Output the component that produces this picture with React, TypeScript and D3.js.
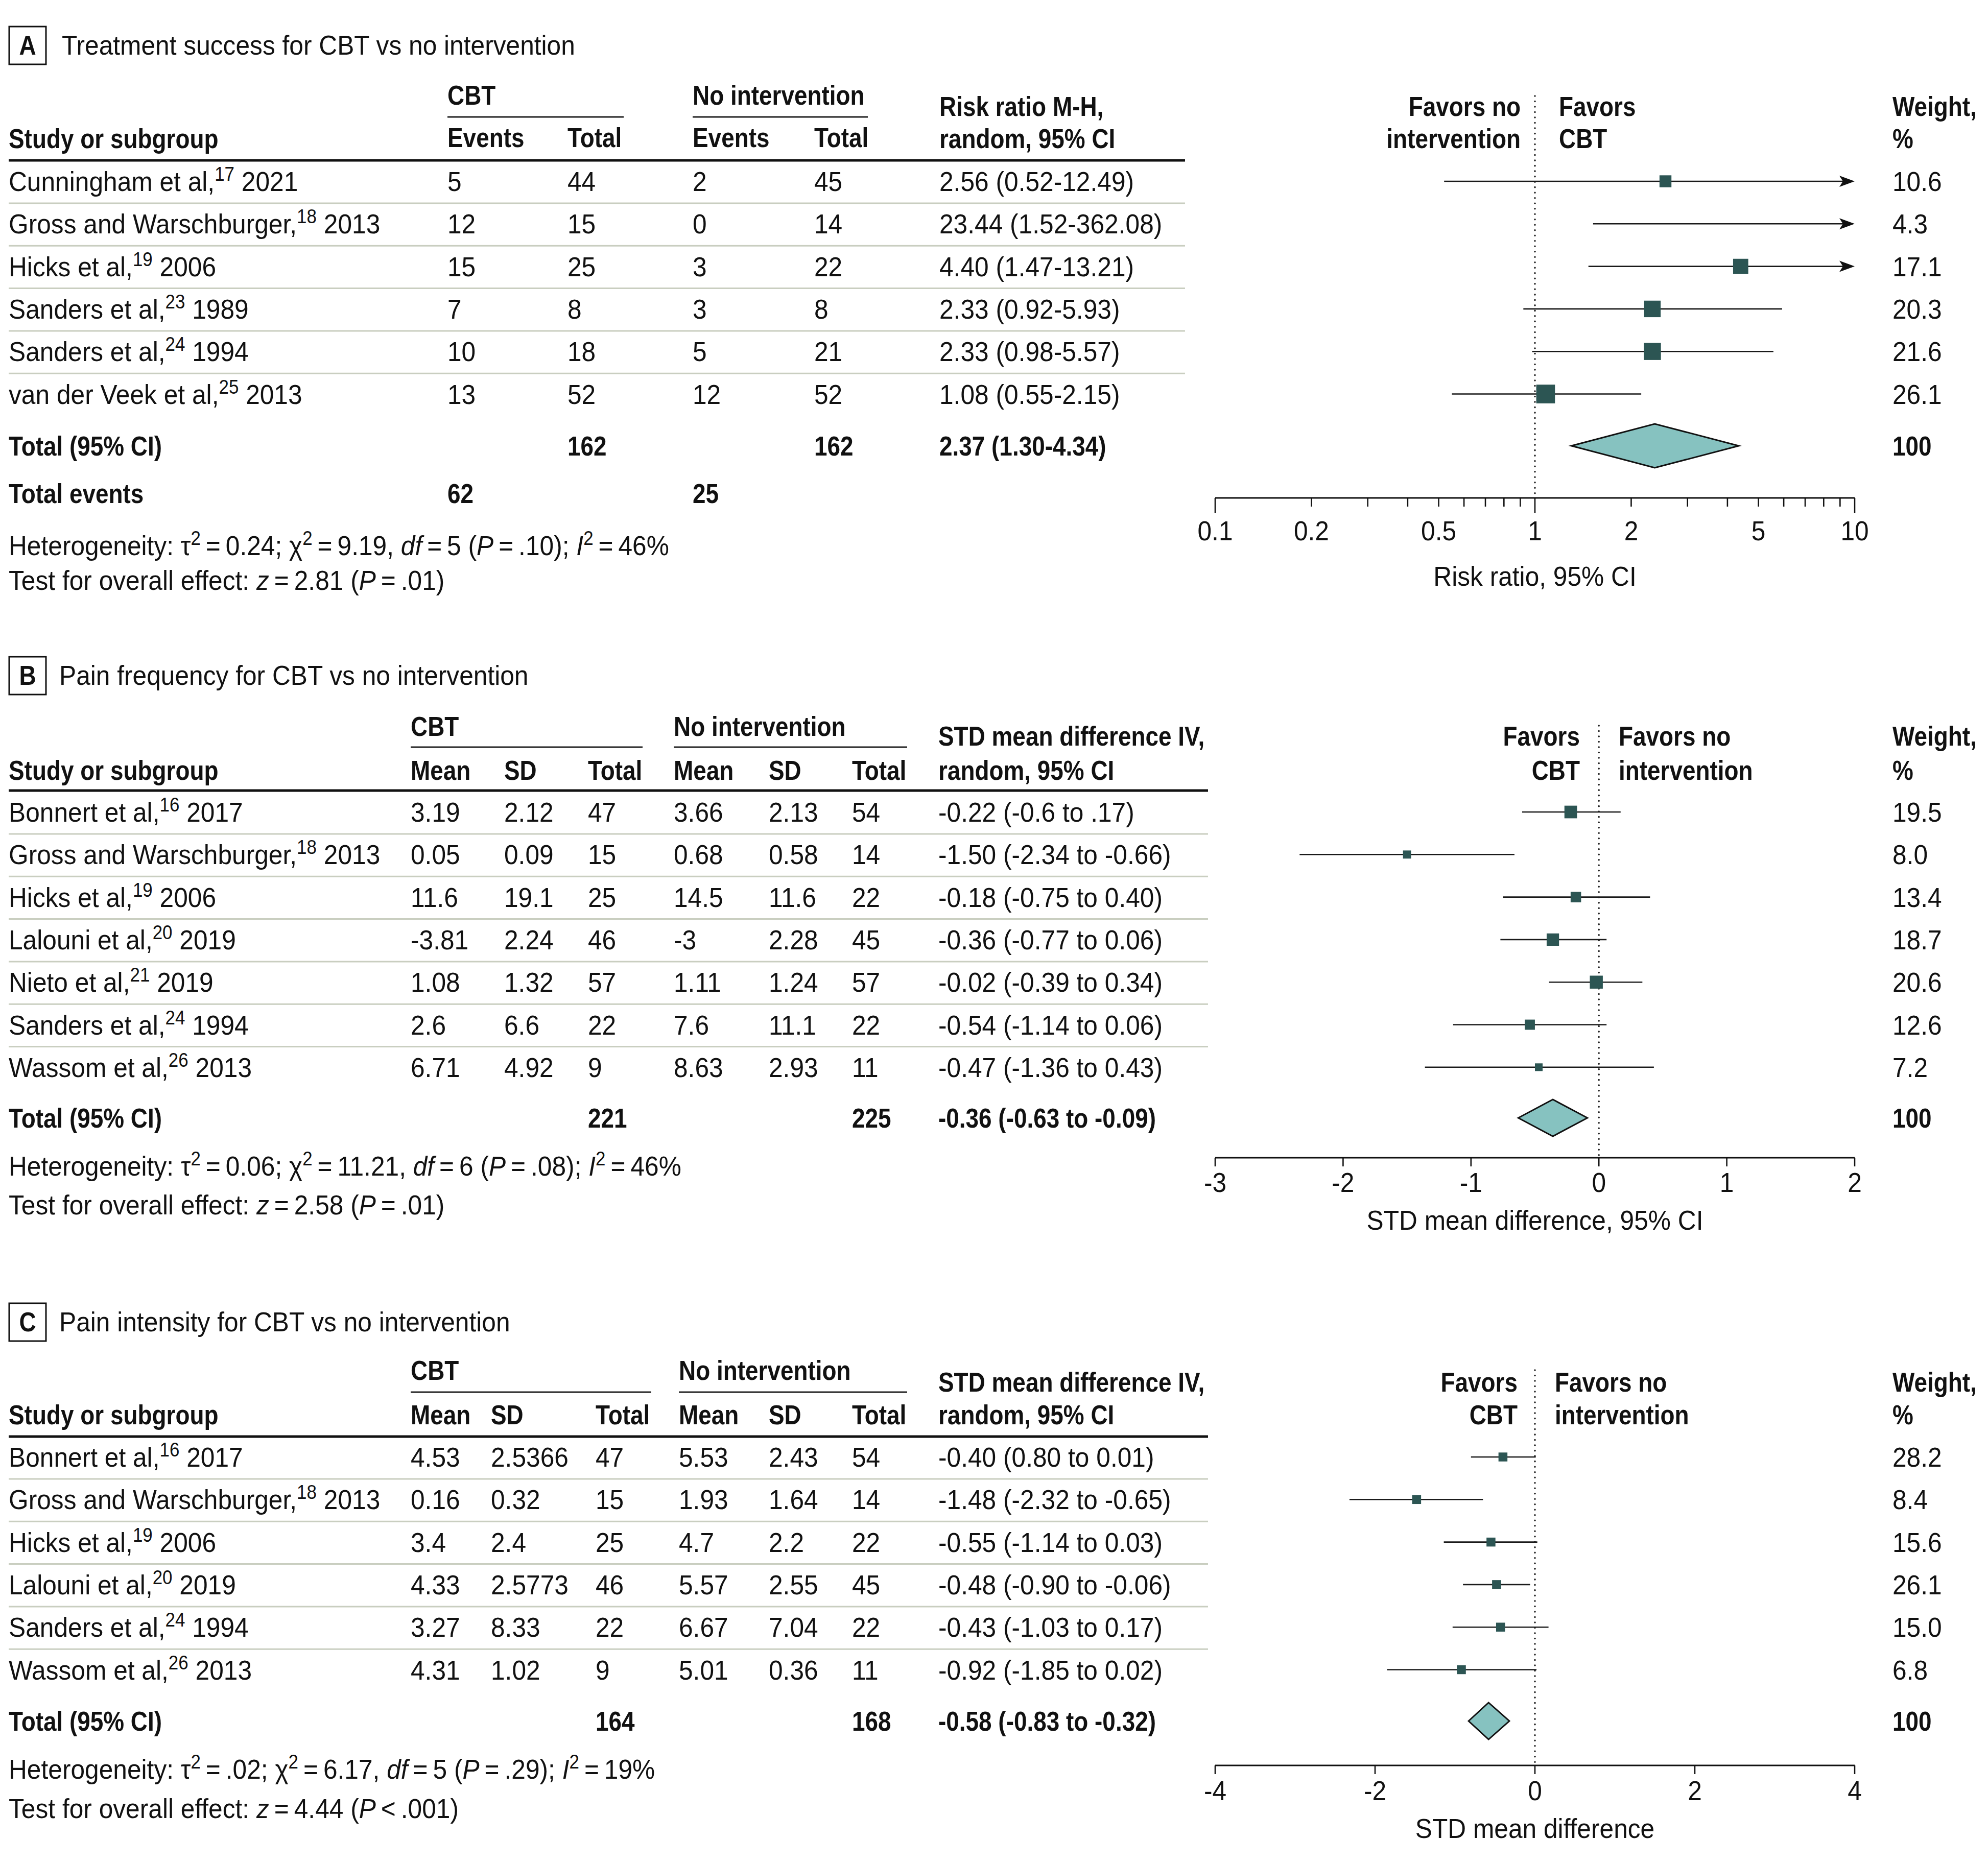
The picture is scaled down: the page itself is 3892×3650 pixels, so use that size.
import React from "react";
import * as d3 from "d3";

// ---------------- Panel A data: Treatment success ----------------
const studiesA = ["Cunningham et al,", "Gross and Warschburger,", "Hicks et al,", "Sanders et al,", "Sanders et al,", "van der Veek et al,"];
const refsA = ["17", "18", "19", "23", "24", "25"];
const yearsA = ["2021", "2013", "2006", "1989", "1994", "2013"];
const eventsCbtA = [5, 12, 15, 7, 10, 13];
const totalCbtA = [44, 15, 25, 8, 18, 52];
const eventsNoA = [2, 0, 3, 3, 5, 12];
const totalNoA = [45, 14, 22, 8, 21, 52];
const rrA = [2.56, 23.44, 4.4, 2.33, 2.33, 1.08];
const rrLowA = [0.52, 1.52, 1.47, 0.92, 0.98, 0.55];
const rrHighA = [12.49, 362.08, 13.21, 5.93, 5.57, 2.15];
const weightA = ["10.6", "4.3", "17.1", "20.3", "21.6", "26.1"];
const pooledA = [2.37, 1.3, 4.34];
const totalsA = [162, 162];
const totalEventsA = [62, 25];
const ticksA = [0.1, 0.2, 0.3, 0.4, 0.5, 0.6, 0.7, 0.8, 0.9, 1, 2, 3, 4, 5, 6, 7, 8, 9, 10];
const tickLabelsA = [0.1, 0.2, 0.5, 1, 2, 5, 10];
const hetA = [["Heterogeneity: τ", "n"], ["2", "s"], ["\u2009=\u20090.24; χ", "n"], ["2", "s"], ["\u2009=\u20099.19, ", "n"], ["df", "i"], ["\u2009=\u20095 (", "n"], ["P", "i"], ["\u2009=\u2009.10); ", "n"], ["I", "i"], ["2", "s"], ["\u2009=\u200946%", "n"]];
const testA = [["Test for overall effect: ", "n"], ["z", "i"], ["\u2009=\u20092.81 (", "n"], ["P", "i"], ["\u2009=\u2009.01)", "n"]];

// ---------------- Panel B data: Pain frequency ----------------
const studiesB = ["Bonnert et al,", "Gross and Warschburger,", "Hicks et al,", "Lalouni et al,", "Nieto et al,", "Sanders et al,", "Wassom et al,"];
const refsB = ["16", "18", "19", "20", "21", "24", "26"];
const yearsB = ["2017", "2013", "2006", "2019", "2019", "1994", "2013"];
const meanCbtB = ["3.19", "0.05", "11.6", "-3.81", "1.08", "2.6", "6.71"];
const sdCbtB = ["2.12", "0.09", "19.1", "2.24", "1.32", "6.6", "4.92"];
const totalCbtB = [47, 15, 25, 46, 57, 22, 9];
const meanNoB = ["3.66", "0.68", "14.5", "-3", "1.11", "7.6", "8.63"];
const sdNoB = ["2.13", "0.58", "11.6", "2.28", "1.24", "11.1", "2.93"];
const totalNoB = [54, 14, 22, 45, 57, 22, 11];
const smdB = [-0.22, -1.5, -0.18, -0.36, -0.02, -0.54, -0.47];
const smdLowB = [-0.6, -2.34, -0.75, -0.77, -0.39, -1.14, -1.36];
const smdHighB = [0.17, -0.66, 0.4, 0.06, 0.34, 0.06, 0.43];
const ciLabelB = ["-0.22 (-0.6 to .17)", "-1.50 (-2.34 to -0.66)", "-0.18 (-0.75 to 0.40)", "-0.36 (-0.77 to 0.06)", "-0.02 (-0.39 to 0.34)", "-0.54 (-1.14 to 0.06)", "-0.47 (-1.36 to 0.43)"];
const weightB = ["19.5", "8.0", "13.4", "18.7", "20.6", "12.6", "7.2"];
const pooledB = [-0.36, -0.63, -0.09];
const pooledLabelB = "-0.36 (-0.63 to -0.09)";
const totalsB = [221, 225];
const ticksB = [-3, -2, -1, 0, 1, 2];
const hetB = [["Heterogeneity: τ", "n"], ["2", "s"], ["\u2009=\u20090.06; χ", "n"], ["2", "s"], ["\u2009=\u200911.21, ", "n"], ["df", "i"], ["\u2009=\u20096 (", "n"], ["P", "i"], ["\u2009=\u2009.08); ", "n"], ["I", "i"], ["2", "s"], ["\u2009=\u200946%", "n"]];
const testB = [["Test for overall effect: ", "n"], ["z", "i"], ["\u2009=\u20092.58 (", "n"], ["P", "i"], ["\u2009=\u2009.01)", "n"]];

// ---------------- Panel C data: Pain intensity ----------------
const studiesC = ["Bonnert et al,", "Gross and Warschburger,", "Hicks et al,", "Lalouni et al,", "Sanders et al,", "Wassom et al,"];
const refsC = ["16", "18", "19", "20", "24", "26"];
const yearsC = ["2017", "2013", "2006", "2019", "1994", "2013"];
const meanCbtC = ["4.53", "0.16", "3.4", "4.33", "3.27", "4.31"];
const sdCbtC = ["2.5366", "0.32", "2.4", "2.5773", "8.33", "1.02"];
const totalCbtC = [47, 15, 25, 46, 22, 9];
const meanNoC = ["5.53", "1.93", "4.7", "5.57", "6.67", "5.01"];
const sdNoC = ["2.43", "1.64", "2.2", "2.55", "7.04", "0.36"];
const totalNoC = [54, 14, 22, 45, 22, 11];
const smdC = [-0.4, -1.48, -0.55, -0.48, -0.43, -0.92];
const smdLowC = [-0.8, -2.32, -1.14, -0.9, -1.03, -1.85];
const smdHighC = [0.01, -0.65, 0.03, -0.06, 0.17, 0.02];
const ciLabelC = ["-0.40 (0.80 to 0.01)", "-1.48 (-2.32 to -0.65)", "-0.55 (-1.14 to 0.03)", "-0.48 (-0.90 to -0.06)", "-0.43 (-1.03 to 0.17)", "-0.92 (-1.85 to 0.02)"];
const weightC = ["28.2", "8.4", "15.6", "26.1", "15.0", "6.8"];
const pooledC = [-0.58, -0.83, -0.32];
const pooledLabelC = "-0.58 (-0.83 to -0.32)";
const totalsC = [164, 168];
const ticksC = [-4, -2, 0, 2, 4];
const hetC = [["Heterogeneity: τ", "n"], ["2", "s"], ["\u2009=\u2009.02; χ", "n"], ["2", "s"], ["\u2009=\u20096.17, ", "n"], ["df", "i"], ["\u2009=\u20095 (", "n"], ["P", "i"], ["\u2009=\u2009.29); ", "n"], ["I", "i"], ["2", "s"], ["\u2009=\u200919%", "n"]];
const testC = [["Test for overall effect: ", "n"], ["z", "i"], ["\u2009=\u20094.44 (", "n"], ["P", "i"], ["\u2009<\u2009.001)", "n"]];

// ---------------- Styling / layout ----------------
const FONT = '"Liberation Sans", Arimo, Arial, sans-serif';
const FS = 54;
const SX = 0.92; // horizontal condensation, regular text
const SXB = 0.85; // horizontal condensation, bold text
const SUP_FS = 38;
const SUP_DY = 20;
const ROW_STEP = 83.3;
const PLOT_X0 = 2379;
const PLOT_X1 = 3631;
const WEIGHT_X = 3705;
const SQUARE_FILL = "#2c5553";
const DIAMOND_FILL = "#86c2c0";
const SEP_COLOR = "#c9cec0";
const TXT = "#111";

function tf(x: number, y: number, bold?: boolean) {
  return `translate(${x},${y}) scale(${bold ? SXB : SX},1)`;
}

function rich(parts: string[][]) {
  let up = false;
  return parts.map((p, i) => {
    const [t, st] = p;
    let dy: number | undefined;
    if (st === "s" && !up) { dy = -SUP_DY; up = true; }
    else if (st !== "s" && up) { dy = SUP_DY; up = false; }
    return (
      <tspan key={i} dy={dy} fontSize={st === "s" ? SUP_FS : undefined} fontStyle={st === "i" ? "italic" : undefined}>{t}</tspan>
    );
  });
}

function T(props: { x: number; y: number; children: any; bold?: boolean; anchor?: string }) {
  return (
    <text transform={tf(props.x, props.y, props.bold)} fontWeight={props.bold ? "bold" : "normal"} textAnchor={props.anchor || "start"}>
      {props.children}
    </text>
  );
}

function Rich(props: { x: number; y: number; parts: string[][] }) {
  return <text transform={tf(props.x, props.y)}>{rich(props.parts)}</text>;
}

function StudyName(props: { x: number; y: number; name: string; sup: string; year: string }) {
  return (
    <text transform={tf(props.x, props.y)}>
      {props.name}
      <tspan dy={-SUP_DY} fontSize={SUP_FS}>{props.sup}</tspan>
      <tspan dy={SUP_DY}>{" " + props.year}</tspan>
    </text>
  );
}

function PanelTitle(props: { letter: string; title: string; boxY: number; base: number; titleX: number }) {
  return (
    <g>
      <rect x={18} y={props.boxY} width={72} height={74} fill="none" stroke="#111" strokeWidth={3} />
      <T x={54} y={props.base} bold anchor="middle">{props.letter}</T>
      <T x={props.titleX} y={props.base}>{props.title}</T>
    </g>
  );
}

type ForestProps = {
  scale: any;
  rowBase: number;
  est: number[];
  lo: number[];
  hi: number[];
  sizes: number[];
  pooled: number[];
  pooledBase: number;
  diamondH: number;
  axisY: number;
  ticks: number[];
  tickLabels: number[];
  longTicks: number[];
  tickLen: number;
  longLen: number;
  labelBase: number;
  axisTitle: string;
  axisTitleBase: number;
  dotTop: number;
  refVal: number;
};

function Forest(p: ForestProps) {
  const [dMin, dMax] = p.scale.domain();
  const xr = p.scale(p.refVal);
  const items = p.est.map((e, i) => {
    const y = p.rowBase + i * ROW_STEP - 19;
    const loC = Math.max(p.lo[i], dMin);
    const hiC = Math.min(p.hi[i], dMax);
    const arrowR = p.hi[i] > dMax;
    const x1 = p.scale(loC);
    const x2 = p.scale(hiC);
    const s = p.sizes[i];
    const showSq = e >= dMin && e <= dMax;
    return (
      <g key={i}>
        <line x1={x1} x2={arrowR ? x2 - 20 : x2} y1={y} y2={y} stroke="#1a1a1a" strokeWidth={2.6} />
        {arrowR && (
          <path d={`M${x2},${y} L${x2 - 30},${y - 11} L${x2 - 23},${y} L${x2 - 30},${y + 11} Z`} fill="#111" />
        )}
        {showSq && <rect x={p.scale(e) - s / 2} y={y - s / 2} width={s} height={s} fill={SQUARE_FILL} />}
      </g>
    );
  });
  const dy = p.pooledBase - 19;
  const h = p.diamondH / 2;
  const dPath = d3.line()([
    [p.scale(p.pooled[1]), dy],
    [p.scale(p.pooled[0]), dy - h],
    [p.scale(p.pooled[2]), dy],
    [p.scale(p.pooled[0]), dy + h],
  ]) + "Z";
  return (
    <g>
      <line x1={xr} x2={xr} y1={p.dotTop} y2={p.axisY} stroke="#222" strokeWidth={3.6} strokeDasharray="0.01 10.5" strokeLinecap="round" />
      {items}
      <path d={dPath} fill={DIAMOND_FILL} stroke="#111" strokeWidth={3} strokeLinejoin="miter" />
      <line x1={p.scale(dMin)} x2={p.scale(dMax)} y1={p.axisY} y2={p.axisY} stroke="#111" strokeWidth={3} />
      {p.ticks.map((t, i) => (
        <line key={i} x1={p.scale(t)} x2={p.scale(t)} y1={p.axisY} y2={p.axisY + (p.longTicks.includes(t) ? p.longLen : p.tickLen)} stroke="#111" strokeWidth={2.6} />
      ))}
      {p.tickLabels.map((t, i) => (
        <T key={i} x={p.scale(t)} y={p.labelBase} anchor="middle">{String(t)}</T>
      ))}
      <T x={(p.scale(dMin) + p.scale(dMax)) / 2} y={p.axisTitleBase} anchor="middle">{p.axisTitle}</T>
    </g>
  );
}

function Separators(props: { n: number; rowBase: number; x2: number }) {
  const ys = d3.range(props.n - 1).map((i) => props.rowBase + i * ROW_STEP + 24);
  return (
    <g>
      {ys.map((y, i) => (
        <line key={i} x1={17} x2={props.x2} y1={y} y2={y} stroke={SEP_COLOR} strokeWidth={3} />
      ))}
    </g>
  );
}

function PanelA() {
  const rowBase = 374;
  const x = d3.scaleLog().domain([0.1, 10]).range([PLOT_X0, PLOT_X1]);
  const sizes = weightA.map((w) => 7.18 * Math.sqrt(+w));
  const rows = studiesA.map((s, i) => {
    const y = rowBase + i * ROW_STEP;
    return (
      <g key={i}>
        <StudyName x={17} y={y} name={s} sup={refsA[i]} year={yearsA[i]} />
        <T x={876} y={y}>{eventsCbtA[i]}</T>
        <T x={1111} y={y}>{totalCbtA[i]}</T>
        <T x={1356} y={y}>{eventsNoA[i]}</T>
        <T x={1594} y={y}>{totalNoA[i]}</T>
        <T x={1839} y={y}>{`${rrA[i].toFixed(2)} (${rrLowA[i].toFixed(2)}-${rrHighA[i].toFixed(2)})`}</T>
        <T x={WEIGHT_X} y={y}>{weightA[i]}</T>
      </g>
    );
  });
  return (
    <g>
      <PanelTitle letter="A" title="Treatment success for CBT vs no intervention" boxY={52} base={107} titleX={121} />
      <T x={876} y={205} bold>CBT</T>
      <line x1={876} x2={1221} y1={229} y2={229} stroke="#222" strokeWidth={3} />
      <T x={1356} y={205} bold>No intervention</T>
      <line x1={1356} x2={1699} y1={229} y2={229} stroke="#222" strokeWidth={3} />
      <T x={17} y={290} bold>Study or subgroup</T>
      <T x={876} y={288} bold>Events</T>
      <T x={1111} y={288} bold>Total</T>
      <T x={1356} y={288} bold>Events</T>
      <T x={1594} y={288} bold>Total</T>
      <T x={1839} y={227} bold>Risk ratio M-H,</T>
      <T x={1839} y={290} bold>random, 95% CI</T>
      <T x={2977} y={227} bold anchor="end">Favors no</T>
      <T x={2977} y={290} bold anchor="end">intervention</T>
      <T x={3052} y={227} bold>Favors</T>
      <T x={3052} y={290} bold>CBT</T>
      <T x={WEIGHT_X} y={227} bold>Weight,</T>
      <T x={WEIGHT_X} y={290} bold>%</T>
      <line x1={17} x2={2320} y1={314} y2={314} stroke="#111" strokeWidth={5} />
      <Separators n={studiesA.length} rowBase={rowBase} x2={2320} />
      {rows}
      <T x={17} y={892} bold>Total (95% CI)</T>
      <T x={1111} y={892} bold>{totalsA[0]}</T>
      <T x={1594} y={892} bold>{totalsA[1]}</T>
      <T x={1839} y={892} bold>{`${pooledA[0].toFixed(2)} (${pooledA[1].toFixed(2)}-${pooledA[2].toFixed(2)})`}</T>
      <T x={WEIGHT_X} y={892} bold>100</T>
      <T x={17} y={985} bold>Total events</T>
      <T x={876} y={985} bold>{totalEventsA[0]}</T>
      <T x={1356} y={985} bold>{totalEventsA[1]}</T>
      <Rich x={17} y={1087} parts={hetA} />
      <Rich x={17} y={1155} parts={testA} />
      <Forest scale={x} rowBase={rowBase} est={rrA} lo={rrLowA} hi={rrHighA} sizes={sizes}
        pooled={pooledA} pooledBase={892} diamondH={86} axisY={975} ticks={ticksA} tickLabels={tickLabelsA}
        longTicks={[0.1, 1, 10]} tickLen={17} longLen={30} labelBase={1058} axisTitle="Risk ratio, 95% CI"
        axisTitleBase={1147} dotTop={188} refVal={1} />
    </g>
  );
}

type SmdPanelProps = {
  letter: string; title: string;
  studies: string[]; refs: string[]; years: string[];
  meanCbt: string[]; sdCbt: string[]; totCbt: number[];
  meanNo: string[]; sdNo: string[]; totNo: number[];
  est: number[]; lo: number[]; hi: number[]; ciLabels: string[]; weights: string[];
  pooled: number[]; pooledLabel: string; totals: number[];
  ticks: number[]; axisTitle: string; het: string[][]; test: string[][];
  L: any;
};

function SmdPanel(p: SmdPanelProps) {
  const L = p.L;
  const x = d3.scaleLinear().domain([p.ticks[0], p.ticks[p.ticks.length - 1]]).range([PLOT_X0, PLOT_X1]);
  const sizes = p.weights.map((w) => (L.squareK ? L.squareK * Math.sqrt(+w) : L.squareSize));
  const rows = p.studies.map((s, i) => {
    const y = L.rowBase + i * ROW_STEP;
    return (
      <g key={i}>
        <StudyName x={17} y={y} name={s} sup={p.refs[i]} year={p.years[i]} />
        <T x={L.cols[0]} y={y}>{p.meanCbt[i]}</T>
        <T x={L.cols[1]} y={y}>{p.sdCbt[i]}</T>
        <T x={L.cols[2]} y={y}>{p.totCbt[i]}</T>
        <T x={L.cols[3]} y={y}>{p.meanNo[i]}</T>
        <T x={L.cols[4]} y={y}>{p.sdNo[i]}</T>
        <T x={L.cols[5]} y={y}>{p.totNo[i]}</T>
        <T x={1837} y={y}>{p.ciLabels[i]}</T>
        <T x={WEIGHT_X} y={y}>{p.weights[i]}</T>
      </g>
    );
  });
  return (
    <g>
      <PanelTitle letter={p.letter} title={p.title} boxY={L.boxY} base={L.titleBase} titleX={116} />
      <T x={L.cols[0]} y={L.groupBase} bold>CBT</T>
      <line x1={L.cols[0]} x2={L.ul1} y1={L.ulY} y2={L.ulY} stroke="#222" strokeWidth={3} />
      <T x={L.cols[3]} y={L.groupBase} bold>No intervention</T>
      <line x1={L.cols[3]} x2={1776} y1={L.ulY} y2={L.ulY} stroke="#222" strokeWidth={3} />
      <T x={17} y={L.head2} bold>Study or subgroup</T>
      <T x={L.cols[0]} y={L.head2} bold>Mean</T>
      <T x={L.cols[1]} y={L.head2} bold>SD</T>
      <T x={L.cols[2]} y={L.head2} bold>Total</T>
      <T x={L.cols[3]} y={L.head2} bold>Mean</T>
      <T x={L.cols[4]} y={L.head2} bold>SD</T>
      <T x={L.cols[5]} y={L.head2} bold>Total</T>
      <T x={1837} y={L.head1} bold>STD mean difference IV,</T>
      <T x={1837} y={L.head2} bold>random, 95% CI</T>
      <T x={L.favL} y={L.head1} bold anchor="end">Favors</T>
      <T x={L.favL} y={L.head2} bold anchor="end">CBT</T>
      <T x={L.favR} y={L.head1} bold>Favors no</T>
      <T x={L.favR} y={L.head2} bold>intervention</T>
      <T x={WEIGHT_X} y={L.head1} bold>Weight,</T>
      <T x={WEIGHT_X} y={L.head2} bold>%</T>
      <line x1={17} x2={2365} y1={L.ruleY} y2={L.ruleY} stroke="#111" strokeWidth={5} />
      <Separators n={p.studies.length} rowBase={L.rowBase} x2={2365} />
      {rows}
      <T x={17} y={L.totalBase} bold>Total (95% CI)</T>
      <T x={L.cols[2]} y={L.totalBase} bold>{p.totals[0]}</T>
      <T x={L.cols[5]} y={L.totalBase} bold>{p.totals[1]}</T>
      <T x={1837} y={L.totalBase} bold>{p.pooledLabel}</T>
      <T x={WEIGHT_X} y={L.totalBase} bold>100</T>
      <Rich x={17} y={L.hetBase} parts={p.het} />
      <Rich x={17} y={L.testBase} parts={p.test} />
      <Forest scale={x} rowBase={L.rowBase} est={p.est} lo={p.lo} hi={p.hi} sizes={sizes}
        pooled={p.pooled} pooledBase={L.totalBase} diamondH={72} axisY={L.axisY} ticks={p.ticks} tickLabels={p.ticks}
        longTicks={[]} tickLen={17} longLen={17} labelBase={L.labelBase} axisTitle={p.axisTitle}
        axisTitleBase={L.axisTitleBase} dotTop={L.dotTop} refVal={0} />
    </g>
  );
}

const layoutB = {
  boxY: 1286, titleBase: 1341, groupBase: 1441, ulY: 1463, ul1: 1258, head1: 1460, head2: 1527, ruleY: 1548,
  rowBase: 1609, totalBase: 2208, hetBase: 2302, testBase: 2378, axisY: 2267, labelBase: 2334,
  axisTitleBase: 2408, dotTop: 1421, cols: [804, 987, 1151, 1319, 1505, 1668], favL: 3093, favR: 3169, squareK: 5.6,
};
const layoutC = {
  boxY: 2552, titleBase: 2607, groupBase: 2702, ulY: 2726, ul1: 1275, head1: 2725, head2: 2789, ruleY: 2813,
  rowBase: 2872, totalBase: 3389, hetBase: 3483, testBase: 3560, axisY: 3457, labelBase: 3525,
  axisTitleBase: 3599, dotTop: 2683, cols: [804, 961, 1166, 1329, 1505, 1668], favL: 2971, favR: 3044, squareSize: 17.5,
};

export default function App() {
  return (
    <svg width={3892} height={3650} style={{ position: "absolute", left: 0, top: 0, background: "#fff" }}
      fontFamily={FONT} fontSize={FS} fill={TXT}>
      <rect width={3892} height={3650} fill="#fff" />
      <PanelA />
      <SmdPanel letter="B" title="Pain frequency for CBT vs no intervention"
        studies={studiesB} refs={refsB} years={yearsB}
        meanCbt={meanCbtB} sdCbt={sdCbtB} totCbt={totalCbtB}
        meanNo={meanNoB} sdNo={sdNoB} totNo={totalNoB}
        est={smdB} lo={smdLowB} hi={smdHighB} ciLabels={ciLabelB} weights={weightB}
        pooled={pooledB} pooledLabel={pooledLabelB} totals={totalsB}
        ticks={ticksB} axisTitle="STD mean difference, 95% CI" het={hetB} test={testB} L={layoutB} />
      <SmdPanel letter="C" title="Pain intensity for CBT vs no intervention"
        studies={studiesC} refs={refsC} years={yearsC}
        meanCbt={meanCbtC} sdCbt={sdCbtC} totCbt={totalCbtC}
        meanNo={meanNoC} sdNo={sdNoC} totNo={totalNoC}
        est={smdC} lo={smdLowC} hi={smdHighC} ciLabels={ciLabelC} weights={weightC}
        pooled={pooledC} pooledLabel={pooledLabelC} totals={totalsC}
        ticks={ticksC} axisTitle="STD mean difference" het={hetC} test={testC} L={layoutC} />
    </svg>
  );
}
